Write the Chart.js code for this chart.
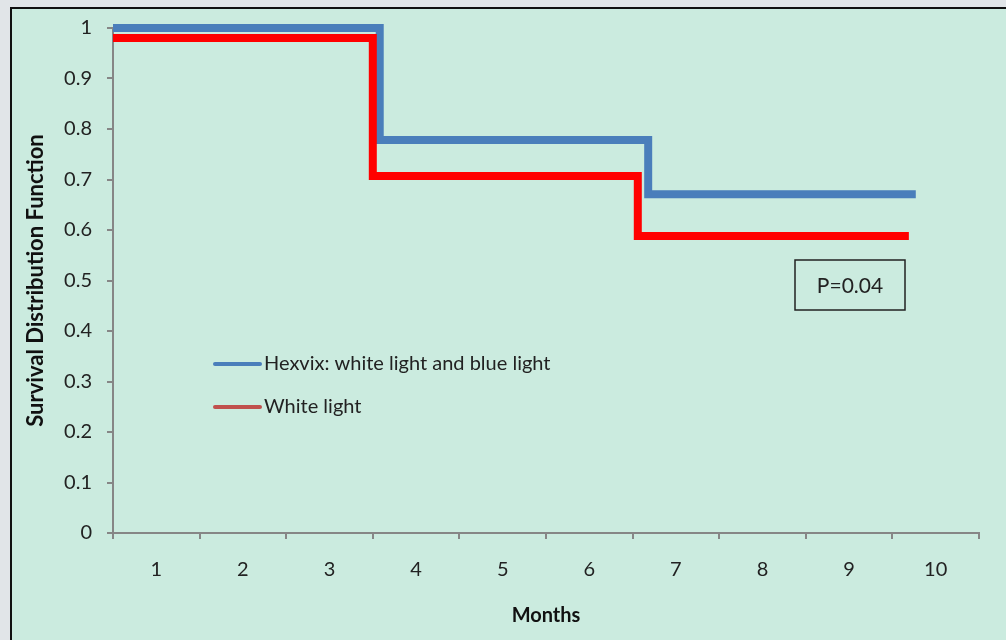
<!DOCTYPE html>
<html>
<head>
<meta charset="utf-8">
<script src="https://cdn.jsdelivr.net/npm/chart.js@4"></script>
<style>
    html, body { margin:0; padding:0; background:#e1e5e8; width:1006px; height:640px; overflow:hidden; }
    #frame { position:absolute; left:10px; top:7px; right:-4px; bottom:-4px; background:#cbebdf; border:2px solid #111; }
    #survivalChart { position:absolute; left:0; top:0; }
</style>
</head>
<body>
<div id="frame"></div>
<canvas id="survivalChart" width="1006" height="640"></canvas>
<script>
// months on the x axis
const months = ['1','2','3','4','5','6','7','8','9','10'];

// Hexvix: white light and blue light
const hexvixTimes = [0.5, 3.58, 6.68, 9.77];
const hexvixSurvival = [1.0, 0.778, 0.671, 0.671];

// White light
const whiteTimes = [0.5, 3.5, 6.56, 9.69];
const whiteSurvival = [0.98, 0.707, 0.588, 0.588];

const seriesNames = ['Hexvix: white light and blue light', 'White light'];
const pValueText = 'P=0.04';

const FONT = 'Lato, "Open Sans", sans-serif';
const axisGray = '#868686';

function toPoints(xs, ys){
    return xs.map((x,i)=>({x:x, y:ys[i]}));
}

// legend lines + P value box, drawn inside the plot area
const extras = {
    id:'extras',
    afterDatasetsDraw(chart){
        const ctx = chart.ctx;
        const a = chart.chartArea;
        ctx.save();
        const legendColors = ['#4a7ebb', '#c0504d'];
        const lx = a.left + 102, ly = a.top + 336;
        ctx.font = '20px ' + FONT;
        ctx.textBaseline = 'middle';
        seriesNames.forEach((name,i)=>{
            const y = ly + i*43;
            ctx.strokeStyle = legendColors[i];
            ctx.lineWidth = 4;
            ctx.lineCap = 'round';
            ctx.beginPath();
            ctx.moveTo(lx, y);
            ctx.lineTo(lx + 45, y);
            ctx.stroke();
            ctx.fillStyle = '#222';
            ctx.textAlign = 'left';
            ctx.fillText(name, lx + 49, y);
        });
        // P value box
        const bx = a.left + 682, by = a.top + 232;
        ctx.strokeStyle = '#222';
        ctx.lineWidth = 1.5;
        ctx.strokeRect(bx, by, 110, 50);
        ctx.fillStyle = '#222';
        ctx.font = '21px ' + FONT;
        ctx.textAlign = 'center';
        ctx.fillText(pValueText, bx + 55, by + 26);
        ctx.restore();
    }
};

const survivalChart = new Chart(
    document.getElementById('survivalChart'),
    {
        type:'line',
        data:{
            labels:months,
            datasets:[{
                label:seriesNames[0],
                data:toPoints(hexvixTimes, hexvixSurvival),
                xAxisID:'xv',
                stepped:true,
                borderColor:'#4a7ebb',
                borderWidth:8,
                pointRadius:0,
                clip:false,
                order:1
            },{
                label:seriesNames[1],
                data:toPoints(whiteTimes, whiteSurvival),
                xAxisID:'xv',
                stepped:true,
                borderColor:'#ff0000',
                borderWidth:8,
                pointRadius:0,
                clip:false,
                order:0
            }]
        },
        options:{
            responsive:false,
            animation:false,
            devicePixelRatio:1,
            layout:{ padding:{ left:19, top:28, right:27, bottom:8 } },
            plugins:{
                legend:{ display:false },
                tooltip:{ enabled:false }
            },
            scales:{
                x:{
                    type:'category',
                    offset:true,
                    grid:{ offset:true, drawOnChartArea:false, tickLength:6, color:axisGray, lineWidth:2 },
                    border:{ color:axisGray, width:2 },
                    ticks:{ color:'#222', font:{ family:FONT, size:20 }, padding:19, maxRotation:0, autoSkip:false },
                    title:{ display:true, text:'Months', color:'#111', font:{ family:FONT, size:20, weight:'bold' }, padding:{ top:4, bottom:4 } },
                    afterFit(scale){ scale.height = 99; }
                },
                xv:{
                    type:'linear',
                    display:false,
                    min:0.5,
                    max:10.5
                },
                y:{
                    min:0,
                    max:1,
                    ticks:{
                        stepSize:0.1,
                        color:'#222',
                        font:{ family:FONT, size:20 },
                        padding:15,
                        callback:(v)=>String(Math.round(v*10)/10)
                    },
                    grid:{ drawOnChartArea:false, tickLength:6, color:axisGray, lineWidth:2 },
                    border:{ color:axisGray, width:2 },
                    title:{ display:true, text:'Survival Distribution Function', color:'#111', font:{ family:FONT, size:22, weight:'bold' }, padding:{ top:4, bottom:4 } },
                    afterFit(scale){ scale.width = 94; }
                }
            }
        },
        plugins:[extras]
    }
);
</script>
</body>
</html>
